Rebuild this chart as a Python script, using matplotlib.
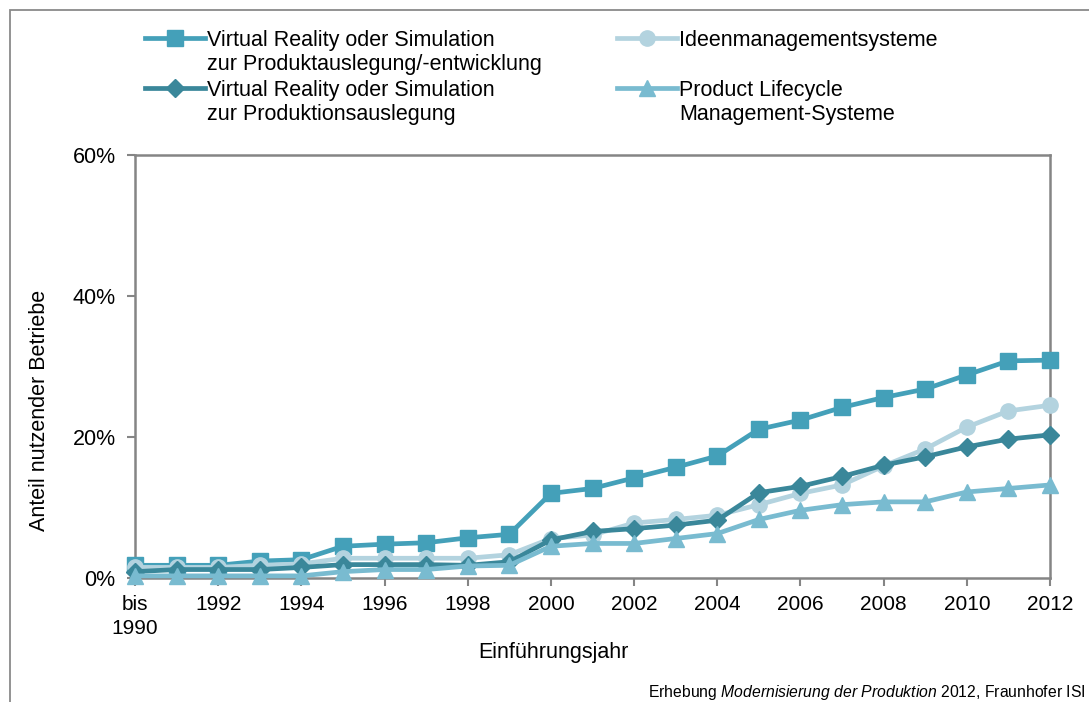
import matplotlib
matplotlib.use("Agg")
import matplotlib.pyplot as plt
from matplotlib.patches import Rectangle
from matplotlib.ticker import FuncFormatter

plt.rcParams['font.family'] = ['Liberation Sans', 'DejaVu Sans']
plt.rcParams['mathtext.fontset'] = 'custom'
plt.rcParams['mathtext.rm'] = 'Liberation Sans'
plt.rcParams['mathtext.it'] = 'Liberation Sans:italic'

# Einführungsjahre (erster Wert: "bis 1990")
years = list(range(1990, 2013))

# Anteil nutzender Betriebe in %
vr_produkt = [1.8, 1.8, 1.8, 2.4, 2.6, 4.5, 4.8, 5.0, 5.7, 6.2, 12.0, 12.7,
              14.2, 15.7, 17.3, 21.1, 22.4, 24.2, 25.6, 26.8, 28.8, 30.8, 30.9]
ideen = [1.5, 1.5, 1.5, 1.8, 2.0, 2.8, 2.8, 2.8, 2.8, 3.3, 5.6, 6.1,
         7.8, 8.3, 8.9, 10.4, 12.0, 13.2, 15.9, 18.3, 21.4, 23.7, 24.5]
vr_produktion = [0.9, 1.2, 1.2, 1.2, 1.5, 1.9, 1.9, 1.9, 1.8, 2.3, 5.4, 6.6,
                 7.0, 7.5, 8.2, 12.1, 13.0, 14.4, 16.0, 17.2, 18.6, 19.7, 20.3]
plm = [0.3, 0.3, 0.3, 0.3, 0.3, 0.9, 1.2, 1.2, 1.7, 1.8, 4.5, 4.9,
       4.9, 5.6, 6.3, 8.3, 9.6, 10.4, 10.8, 10.8, 12.2, 12.7, 13.2]

labels_first = ["Virtual Reality oder Simulation", "Ideenmanagementsysteme",
                "Virtual Reality oder Simulation", "Product Lifecycle"]
labels_second = ["zur Produktauslegung/-entwicklung", "",
                 "zur Produktionsauslegung", "Management-Systeme"]

c_produkt = '#44a0b9'
c_ideen = '#b3d3df'
c_produktion = '#3a879a'
c_plm = '#79bbd0'

fs = 15.5

fig = plt.figure(figsize=(10.89, 7.02), dpi=100)
ax = fig.add_axes([135 / 1089, 1 - 578 / 702, 915 / 1089, 423 / 702])

x = list(range(len(years)))
lw = 3.4
l1, = ax.plot(x, vr_produkt, color=c_produkt, lw=lw, marker='s', ms=11,
              clip_on=False, zorder=3)
l2, = ax.plot(x, ideen, color=c_ideen, lw=lw, marker='o', ms=11,
              clip_on=False, zorder=4)
l3, = ax.plot(x, vr_produktion, color=c_produktion, lw=lw, marker='D', ms=9,
              clip_on=False, zorder=5)
l4, = ax.plot(x, plm, color=c_plm, lw=lw, marker='^', ms=12,
              clip_on=False, zorder=6)

ax.set_xlim(0, len(years) - 1)
ax.set_ylim(0, 60)
ax.set_yticks([0, 20, 40, 60])
ax.yaxis.set_major_formatter(FuncFormatter(lambda v, p: f"{v:.0f}%"))

tick_pos = x[::2]
tick_lab = ["bis\n1990" if years[i] == 1990 else str(years[i]) for i in tick_pos]
ax.set_xticks(tick_pos)
ax.set_xticklabels(tick_lab, linespacing=1.35)

for s in ax.spines.values():
    s.set_color('#858585')
    s.set_linewidth(1.8)
ax.tick_params(axis='both', color='#858585', width=1.5, length=6,
               direction='out')
ax.tick_params(axis='y', pad=8, labelsize=fs)
ax.tick_params(axis='x', pad=6, labelsize=15)

ax.set_xlabel("Einführungsjahr", fontsize=fs)
ax.xaxis.set_label_coords(0.457, -0.152)
ax.set_ylabel("Anteil nutzender Betriebe", fontsize=fs)
ax.yaxis.set_label_coords(-0.093, 0.397)

# legend: two columns, each entry with a continuation line underneath
leg_kw = dict(frameon=False, fontsize=fs, handlelength=2.8,
              handletextpad=0.1, labelspacing=1.33, borderpad=0,
              borderaxespad=0, loc='upper left')
leg1 = fig.legend([l1, l3], [labels_first[0], labels_first[2]],
                  bbox_to_anchor=(145 / 1089, 1 - 30 / 702), **leg_kw)
leg2 = fig.legend([l2, l4], [labels_first[1], labels_first[3]],
                  bbox_to_anchor=(617 / 1089, 1 - 30 / 702), **leg_kw)

fig.canvas.draw()
W, H = fig.bbox.width, fig.bbox.height
pairs = [(leg1.get_texts()[0], labels_second[0]),
         (leg1.get_texts()[1], labels_second[2]),
         (leg2.get_texts()[0], labels_second[1]),
         (leg2.get_texts()[1], labels_second[3])]
for t, extra in pairs:
    if not extra:
        continue
    bb = t.get_window_extent()
    fig.text(bb.x0 / W, (bb.y0 - 3) / H, extra, fontsize=fs,
             ha='left', va='top')

# outer frame
fig.patches.append(Rectangle((10 / 1089, -0.05), 1.2, 1 - 10 / 702 + 0.05,
                             transform=fig.transFigure, fill=False,
                             edgecolor='#8a8a8a', lw=1.3))

fig.text(1085 / 1089, 1 - 683 / 702,
         r"Erhebung $\mathit{Modernisierung\ der\ Produktion}$ 2012, Fraunhofer ISI",
         fontsize=11.3, ha='right', va='top')

fig.savefig("out.png", dpi=100)
